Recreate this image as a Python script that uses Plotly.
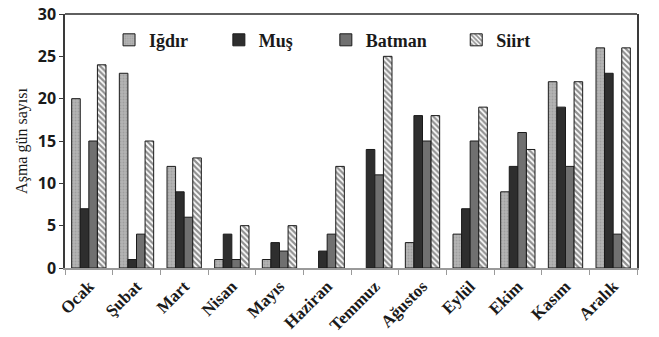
import plotly.graph_objects as go

months = ["Ocak", "Şubat", "Mart", "Nisan", "Mayıs", "Haziran", "Temmuz",
          "Ağustos", "Eylül", "Ekim", "Kasım", "Aralık"]
igdir = [20, 23, 12, 1, 1, 0, 0, 3, 4, 9, 22, 26]
mus = [7, 1, 9, 4, 3, 2, 14, 18, 7, 12, 19, 23]
batman = [15, 4, 6, 1, 2, 4, 11, 15, 15, 16, 12, 4]
siirt = [24, 15, 13, 5, 5, 12, 25, 18, 19, 14, 22, 26]

serif = "Liberation Serif"


def outline(vals):
    return dict(color="#1a1a1a", width=[0 if v == 0 else 1 for v in vals])


fig = go.Figure()
fig.add_bar(x=months, y=igdir, name="Iğdır", legend="legend",
            marker=dict(color="#a9a9a9", line=outline(igdir),
                        pattern=dict(shape=".", size=3, solidity=0.3, fgcolor="#8a8a8a", bgcolor="#b4b4b4")))
fig.add_bar(x=months, y=mus, name="Muş", legend="legend2",
            marker=dict(color="#2e2e2e", line=outline(mus)))
fig.add_bar(x=months, y=batman, name="Batman", legend="legend3",
            marker=dict(color="#707070", line=outline(batman)))
fig.add_bar(x=months, y=siirt, name="Siirt", legend="legend4",
            marker=dict(color="white", line=outline(siirt),
                        pattern=dict(shape="\\", size=4, solidity=0.55, fgcolor="#222222", bgcolor="white")))


def leg(x):
    return dict(orientation="h", x=x, y=0.97, xanchor="left", yanchor="top",
                font=dict(family=serif, size=18, color="#1a1a1a", weight="bold"),
                bgcolor="rgba(0,0,0,0)", itemwidth=30)


fig.update_layout(
    width=659, height=337,
    margin=dict(l=65, r=22, t=14, b=69),
    paper_bgcolor="white", plot_bgcolor="white",
    barmode="group", bargap=0.28, bargroupgap=0,
    showlegend=True,
    legend=leg(0.077), legend2=leg(0.269), legend3=leg(0.456), legend4=leg(0.684),
    xaxis=dict(tickangle=-45, automargin=False,
               tickfont=dict(family=serif, size=17, color="#1a1a1a", weight="bold"),
               showline=True, linecolor="#9a9a9a", linewidth=1.5,
               ticks="outside", tickson="boundaries", ticklen=5, tickcolor="#9a9a9a"),
    yaxis=dict(range=[0, 30], dtick=5, showgrid=False, zeroline=False, automargin=False,
               showline=True, linecolor="#3a3a3a", linewidth=1.5, mirror=True,
               ticks="outside", ticklen=4, tickcolor="#3a3a3a",
               tickfont=dict(family="Open Sans", size=16, color="#1a1a1a", weight="bold"),
               title=dict(text="Aşma gün sayısı", font=dict(family=serif, size=16, color="#1a1a1a"), standoff=6)),
    shapes=[dict(type="line", xref="paper", yref="paper", x0=0, x1=1, y0=1, y1=1,
                 line=dict(color="#2a2a2a", width=1.5))],
)

fig.write_html("out.html", config={"displayModeBar": False},
               post_script="document.body.style.margin='0';document.body.style.overflow='hidden';")
